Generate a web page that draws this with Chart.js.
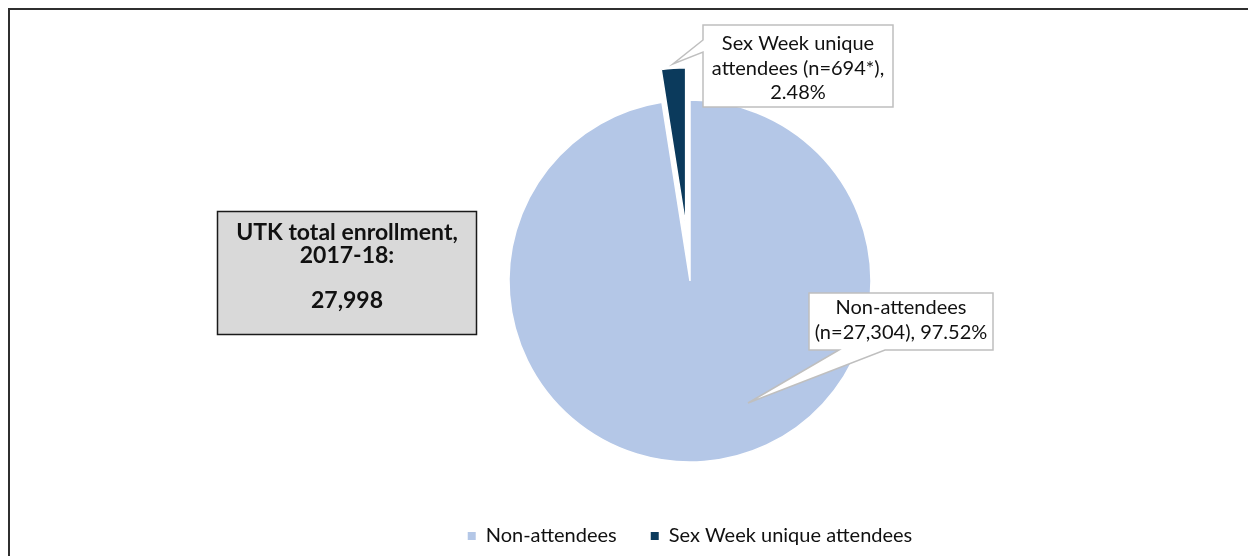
<!DOCTYPE html>
<html><head><meta charset="utf-8">
<script src="https://cdn.jsdelivr.net/npm/chart.js@4"></script>
<style>html,body{margin:0;padding:0;background:#fff;overflow:hidden}#wrap{width:1248px;height:556px;position:relative}canvas{display:block}</style>
</head><body><div id="wrap"><canvas id="c" width="1248" height="556"></canvas></div>
<script>
// ---- data ----
const categories = ['Non-attendees', 'Sex Week unique attendees'];
const counts = [27304, 694];
const colors = ['#b4c7e7', '#0b3a5c'];
const explodeDistance = [0, 56];      // px the slice is pulled out along its mid-angle
const explodeScale = [1, 0.87];       // exploded slice is drawn smaller, as in the source
const enrollmentTitle = ['UTK total enrollment,', '2017-18:'];
const footnoteMark = ['', '*'];

const total = counts.reduce((a, b) => a + b, 0);
const pct = counts.map(v => (v / total * 100).toFixed(2) + '%');
const fmt = v => v.toLocaleString('en-US');
const FONT = 'Lato, "Open Sans", sans-serif';

function callout(ctx, pts, lines, cx, y0, dy) {
  ctx.beginPath();
  ctx.moveTo(pts[0][0], pts[0][1]);
  for (let i = 1; i < pts.length; i++) ctx.lineTo(pts[i][0], pts[i][1]);
  ctx.closePath();
  ctx.fillStyle = '#ffffff';
  ctx.fill();
  ctx.strokeStyle = '#bfbfbf';
  ctx.lineWidth = 1.5;
  ctx.stroke();
  ctx.fillStyle = '#111';
  ctx.font = '20px ' + FONT;
  ctx.textAlign = 'center';
  ctx.textBaseline = 'middle';
  lines.forEach((t, i) => ctx.fillText(t, cx, y0 + i * dy));
}

// explode slices: move along the mid-angle and scale the radius (no offset, which narrows thin arcs)
const explodeSlices = {
  id: 'explodeSlices',
  afterDatasetsUpdate(chart) {
    const meta = chart.getDatasetMeta(0);
    meta.data.forEach((arc, i) => {
      const d = explodeDistance[i] || 0;
      const s = explodeScale[i] || 1;
      const mid = (arc.startAngle + arc.endAngle) / 2;
      arc.x += Math.cos(mid) * d;
      arc.y += Math.sin(mid) * d;
      arc.outerRadius *= s;
    });
  }
};

const overlay = {
  id: 'overlay',
  beforeDraw(chart) {
    const ctx = chart.ctx;
    ctx.save();
    ctx.fillStyle = '#fff';
    ctx.fillRect(0, 0, chart.width, chart.height);
    ctx.restore();
  },
  afterDraw(chart) {
    const ctx = chart.ctx;
    ctx.save();
    // outer frame
    ctx.strokeStyle = '#2f2f2f';
    ctx.lineWidth = 2;
    ctx.strokeRect(9, 9, 1400, 700);
    // total enrollment box
    ctx.fillStyle = '#d9d9d9';
    ctx.fillRect(217, 211, 260, 124);
    ctx.strokeStyle = '#1a1a1a';
    ctx.lineWidth = 1.5;
    ctx.strokeRect(217.5, 211.5, 259, 123);
    ctx.fillStyle = '#111';
    ctx.font = 'bold 23px ' + FONT;
    ctx.textAlign = 'center';
    ctx.textBaseline = 'middle';
    ctx.fillText(enrollmentTitle[0], 347, 233);
    ctx.fillText(enrollmentTitle[1], 347, 256);
    ctx.fillText(fmt(total), 347, 301);
    // callout: attendees
    callout(ctx,
      [[703, 25], [893, 25], [893, 107], [703, 107], [703, 52], [673, 64], [703, 40]],
      [categories[1].split(' ').slice(0, 3).join(' '),
       categories[1].split(' ').slice(3).join(' ') + ' (n=' + fmt(counts[1]) + footnoteMark[1] + '),',
       pct[1]],
      798, 44, 24.5);
    // callout: non-attendees
    callout(ctx,
      [[809, 293], [993, 293], [993, 350], [885, 350], [748, 403], [839, 350], [809, 350]],
      [categories[0], '(n=' + fmt(counts[0]) + '), ' + pct[0]],
      901, 308, 25);
    ctx.restore();
  }
};

new Chart(document.getElementById('c'), {
  type: 'pie',
  data: {
    labels: categories,
    datasets: [{
      data: counts,
      backgroundColor: colors,
      borderColor: '#ffffff',
      borderWidth: 1.5,
      hoverOffset: 0
    }]
  },
  options: {
    responsive: false,
    animation: false,
    events: [],
    radius: 181,
    layout: { padding: { left: 200, right: 68, top: 70, bottom: 0 } },
    plugins: {
      tooltip: { enabled: false },
      legend: {
        position: 'bottom',
        labels: {
          boxWidth: 8, boxHeight: 8, padding: 34,
          color: '#111',
          font: { family: FONT, size: 20 },
          generateLabels(chart) {
            const items = Chart.controllers.pie.overrides.plugins.legend.labels.generateLabels(chart);
            items.forEach(it => { it.lineWidth = 0; it.strokeStyle = it.fillStyle; });
            return items;
          }
        }
      }
    }
  },
  plugins: [explodeSlices, overlay]
});
</script>
</body></html>
